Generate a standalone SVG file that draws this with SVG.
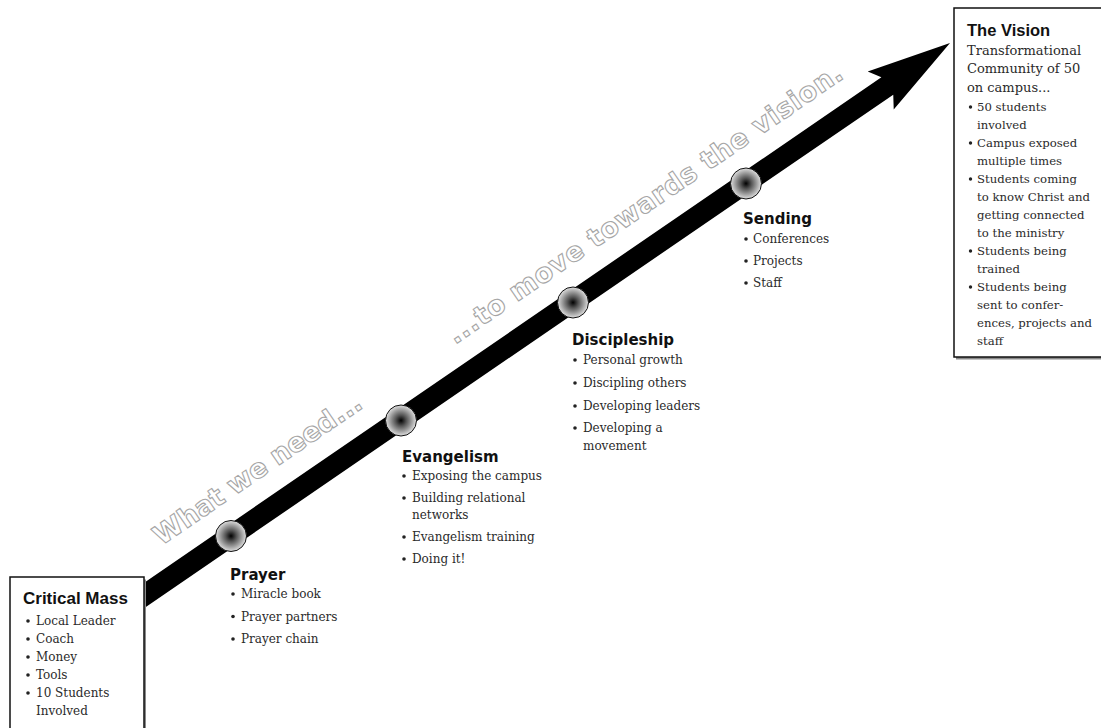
<svg xmlns="http://www.w3.org/2000/svg" width="1101" height="728" viewBox="0 0 1101 728">
<style>
.box{fill:#fff;stroke:#111;stroke-width:1.5}
.shadow{fill:#8a8a8a}
.head{font-family:"Liberation Sans",Arial,sans-serif;font-weight:bold;font-size:17px;fill:#111}
.stage{font-family:"DejaVu Sans",Verdana,sans-serif;font-weight:bold;font-size:15px;fill:#111}
.item{font-family:"DejaVu Serif",Georgia,serif;font-size:12px;fill:#2a2a2a}
.vitem{font-family:"DejaVu Serif",Georgia,serif;font-size:11.7px;fill:#2a2a2a}
.lead{font-family:"DejaVu Serif",Georgia,serif;font-size:13px;fill:#2a2a2a}
.dot{fill:#222}
.hub{fill:url(#hubGrad);stroke:#111;stroke-width:1}
.motto{font-family:"DejaVu Sans",Verdana,sans-serif;font-weight:bold;font-size:27px;fill:#fff;stroke:#a6a6a6;stroke-width:1.1}
</style>
<defs>
<radialGradient id="hubGrad" cx="0.5" cy="0.5" r="0.5">
<stop offset="0" stop-color="#000"/>
<stop offset="0.35" stop-color="#555"/>
<stop offset="1" stop-color="#e0e0e0"/>
</radialGradient>
</defs>
<rect width="1101" height="728" fill="#fff"/>

<g id="connectors">
<g transform="translate(950,43) rotate(-34.43)">
<path d="M0,0 L-84,-23 L-76,-10.5 L-1006,-10.5 L-1006,10.5 L-76,10.5 L-84,23 Z" fill="#000"/>
<text class="motto" x="-935" y="-31" textLength="246" lengthAdjust="spacing">What we need...</text>
<text class="motto" x="-579" y="-31" textLength="473" lengthAdjust="spacing">...to move towards the vision.</text>
</g>
</g>

<g id="critical-mass">
<rect class="shadow" x="12" y="579.5" width="134" height="170"/>
<rect class="box" x="10" y="577" width="134" height="170"/>
<text class="head" x="23" y="604">Critical Mass</text>
<circle class="dot" cx="28" cy="621" r="1.8"/><text class="item" x="36" y="625">Local Leader</text>
<circle class="dot" cx="28" cy="639" r="1.8"/><text class="item" x="36" y="643">Coach</text>
<circle class="dot" cx="28" cy="657" r="1.8"/><text class="item" x="36" y="661">Money</text>
<circle class="dot" cx="28" cy="675" r="1.8"/><text class="item" x="36" y="679">Tools</text>
<circle class="dot" cx="28" cy="693" r="1.8"/><text class="item" x="36" y="697">10 Students</text>
<text class="item" x="36" y="715">Involved</text>
</g>

<g id="prayer">
<circle class="hub" cx="231" cy="536" r="15.5"/>
<text class="stage" x="230" y="580">Prayer</text>
<circle class="dot" cx="233" cy="594" r="1.8"/><text class="item" x="241" y="598">Miracle book</text>
<circle class="dot" cx="233" cy="616.5" r="1.8"/><text class="item" x="241" y="620.5">Prayer partners</text>
<circle class="dot" cx="233" cy="639" r="1.8"/><text class="item" x="241" y="643">Prayer chain</text>
</g>

<g id="evangelism">
<circle class="hub" cx="401" cy="420.5" r="15.5"/>
<text class="stage" x="402" y="462">Evangelism</text>
<circle class="dot" cx="404" cy="476" r="1.8"/><text class="item" x="412" y="480">Exposing the campus</text>
<circle class="dot" cx="404" cy="498" r="1.8"/><text class="item" x="412" y="502">Building relational</text>
<text class="item" x="412" y="519">networks</text>
<circle class="dot" cx="404" cy="537" r="1.8"/><text class="item" x="412" y="541">Evangelism training</text>
<circle class="dot" cx="404" cy="559" r="1.8"/><text class="item" x="412" y="563">Doing it!</text>
</g>

<g id="discipleship">
<circle class="hub" cx="573" cy="302.5" r="15.5"/>
<text class="stage" x="572" y="345">Discipleship</text>
<circle class="dot" cx="575" cy="360" r="1.8"/><text class="item" x="583" y="364">Personal growth</text>
<circle class="dot" cx="575" cy="383" r="1.8"/><text class="item" x="583" y="387">Discipling others</text>
<circle class="dot" cx="575" cy="406" r="1.8"/><text class="item" x="583" y="410">Developing leaders</text>
<circle class="dot" cx="575" cy="428" r="1.8"/><text class="item" x="583" y="432">Developing a</text>
<text class="item" x="583" y="450">movement</text>
</g>

<g id="sending">
<circle class="hub" cx="746" cy="183.5" r="15.5"/>
<text class="stage" x="743" y="224">Sending</text>
<circle class="dot" cx="746" cy="239" r="1.8"/><text class="item" x="753" y="243">Conferences</text>
<circle class="dot" cx="746" cy="261" r="1.8"/><text class="item" x="753" y="265">Projects</text>
<circle class="dot" cx="746" cy="283" r="1.8"/><text class="item" x="753" y="287">Staff</text>
</g>

<g id="the-vision">
<rect class="shadow" x="956" y="10.5" width="160" height="349"/>
<rect class="box" x="954" y="8" width="160" height="349"/>
<text class="head" x="967" y="36" style="font-size:16.5px">The Vision</text>
<text class="lead" x="967" y="55">Transformational</text>
<text class="lead" x="967" y="73">Community of 50</text>
<text class="lead" x="967" y="92">on campus...</text>
<circle class="dot" cx="970.5" cy="107" r="1.7"/><text class="vitem" x="977" y="110.5">50 students</text>
<text class="vitem" x="977" y="128.5">involved</text>
<circle class="dot" cx="970.5" cy="143" r="1.7"/><text class="vitem" x="977" y="146.5">Campus exposed</text>
<text class="vitem" x="977" y="164.5">multiple times</text>
<circle class="dot" cx="970.5" cy="179" r="1.7"/><text class="vitem" x="977" y="182.5">Students coming</text>
<text class="vitem" x="977" y="200.5">to know Christ and</text>
<text class="vitem" x="977" y="218.5">getting connected</text>
<text class="vitem" x="977" y="236.5">to the ministry</text>
<circle class="dot" cx="970.5" cy="251" r="1.7"/><text class="vitem" x="977" y="254.5">Students being</text>
<text class="vitem" x="977" y="272.5">trained</text>
<circle class="dot" cx="970.5" cy="287" r="1.7"/><text class="vitem" x="977" y="290.5">Students being</text>
<text class="vitem" x="977" y="308.5">sent to confer-</text>
<text class="vitem" x="977" y="326.5">ences, projects and</text>
<text class="vitem" x="977" y="344.5">staff</text>
</g>
</svg>
